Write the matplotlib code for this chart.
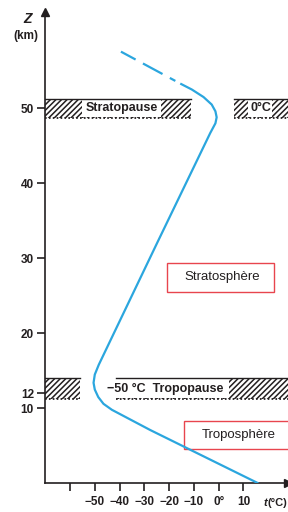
import matplotlib
matplotlib.use('Agg')
import matplotlib.pyplot as plt
from matplotlib.patches import Rectangle

plt.rcParams['font.family'] = ['Liberation Sans', 'DejaVu Sans']
plt.rcParams['lines.scale_dashes'] = False
plt.rcParams['hatch.linewidth'] = 1.1

# temperature profile (t in degC, z in km)
temp_solid = [16.0, -27.6, -43.1, -46.5, -48.6, -50.0, -50.5, -50.0, -48.4, -24.9,
              -3.4, -1.3, -0.8, -1.3, -2.8, -6.1, -10.8, -15.5]
alt_solid = [0.0, 7.1, 9.8, 10.6, 11.5, 12.5, 13.4, 14.5, 15.8, 32.0,
             46.7, 48.0, 48.8, 49.6, 50.5, 51.5, 52.5, 53.3]
temp_dashed = [-15.5, -39.7]
alt_dashed = [53.3, 57.6]

x_ticks = [-60, -50, -40, -30, -20, -10, 0, 10]
x_ticklabels = ['', '\u221250', '\u221240', '\u221230', '\u221220', '\u221210', '0\u00b0', '10']
y_ticks = [10, 12, 20, 30, 40, 50]
y_ticklabels = ['10', '12', '20', '30', '40', '50']

# pause layers: (z bottom, z top), hatched segments, white label zones
strato_z = (48.7, 51.3)
strato_hatch = [(-70.1, -11.2), (6.0, 40.0)]
strato_white = [(-55.0, -23.4), (12.0, 21.7)]
tropo_z = (11.2, 14.0)
tropo_hatch = [(-70.1, -56.1), (-41.3, 40.0)]
tropo_white = [(-41.3, 4.3)]

line_color = '#2ba6de'
red = '#e8454e'
dark = '#231f20'

fig = plt.figure(figsize=(2.88, 5.12), dpi=100)
ax = fig.add_axes([45 / 288, 28.7 / 512, 243 / 288, 471.3 / 512])
ax.set_xlim(-70.1, 28.0)
ax.set_ylim(0, 62.84)


def draw_layer(zr, hatch_segs, white_segs):
    z0, z1 = zr
    for a, b in hatch_segs:
        ax.add_patch(Rectangle((a, z0), b - a, z1 - z0, facecolor='white',
                               edgecolor=dark, hatch='//////', linewidth=0, zorder=1))
        ax.plot([a, b], [z1, z1], color=dark, lw=1.0, zorder=2)
        ax.plot([a, b], [z0, z0], color=dark, lw=1.3, ls=(0, (1.2, 1.6)), zorder=2)
    for a, b in white_segs:
        ax.add_patch(Rectangle((a, z0 + 0.15), b - a, z1 - z0 - 0.3, facecolor='white',
                               edgecolor='none', zorder=1.5))


draw_layer(strato_z, strato_hatch, strato_white)
draw_layer(tropo_z, tropo_hatch, tropo_white)

txt = dict(fontsize=9, fontweight='bold', color=dark, zorder=3)
ax.text(-39.2, 50.0, 'Stratopause', ha='center', va='center', **txt)
ax.text(16.9, 50.0, '0\u00b0C', ha='center', va='center', **txt)
ax.text(-45.1, 12.6, '\u221250 \u00b0C  Tropopause', ha='left', va='center', **txt)

# temperature curve
ax.plot(temp_solid, alt_solid, color=line_color, lw=1.6, zorder=4,
        solid_joinstyle='round', solid_capstyle='butt')
ax.plot(temp_dashed, alt_dashed, color=line_color, lw=1.6, zorder=4,
        ls=(34, (16, 6, 12, 4, 4.5, 6)))

# red labelled boxes
ax.add_patch(Rectangle((-20.7, 25.5), 43.2, 3.9, facecolor='white', edgecolor=red,
                       lw=1.0, zorder=3))
ax.text(1.3, 27.45, 'Stratosph\u00e8re', ha='center', va='center', fontsize=9.5,
        color=dark, zorder=4)
ax.add_patch(Rectangle((-13.8, 4.6), 50, 3.7, facecolor='white', edgecolor=red,
                       lw=1.0, zorder=3))
ax.text(8.2, 6.45, 'Troposph\u00e8re', ha='center', va='center', fontsize=9.5,
        color=dark, zorder=4)

# axes with arrow heads
for s in ['top', 'right']:
    ax.spines[s].set_visible(False)
for s in ['left', 'bottom']:
    ax.spines[s].set_color(dark)
    ax.spines[s].set_linewidth(1.2)
ax.plot(0, 1, '^', color=dark, ms=6, transform=ax.transAxes, clip_on=False)
ax.plot(1, 0, '>', color=dark, ms=6, transform=ax.transAxes, clip_on=False)

ax.set_xticks(x_ticks)
ax.set_xticklabels(x_ticklabels)
ax.set_yticks(y_ticks)
ax.set_yticklabels(y_ticklabels)
ax.tick_params(axis='both', direction='out', length=6, width=1.2, color=dark,
               labelsize=8.5, labelcolor=dark)
ax.tick_params(axis='x', pad=3.5)
ax.tick_params(axis='y', pad=2)
for lab in ax.get_xticklabels() + ax.get_yticklabels():
    lab.set_fontweight('bold')

fig.text(28 / 288, 1 - 19 / 512, 'Z', ha='center', va='center', fontsize=10,
         fontstyle='italic', fontweight='bold', color=dark)
fig.text(26 / 288, 1 - 36 / 512, '(km)', ha='center', va='center', fontsize=8.5,
         fontweight='bold', color=dark)
fig.text(264 / 288, 1 - 503 / 512, 't', ha='left', va='center', fontsize=8,
         fontstyle='italic', fontweight='bold', color=dark)
fig.text(268 / 288, 1 - 503 / 512, '(\u00b0C)', ha='left', va='center',
         fontsize=8, fontweight='bold', color=dark)

fig.savefig('out.png', dpi=100)
